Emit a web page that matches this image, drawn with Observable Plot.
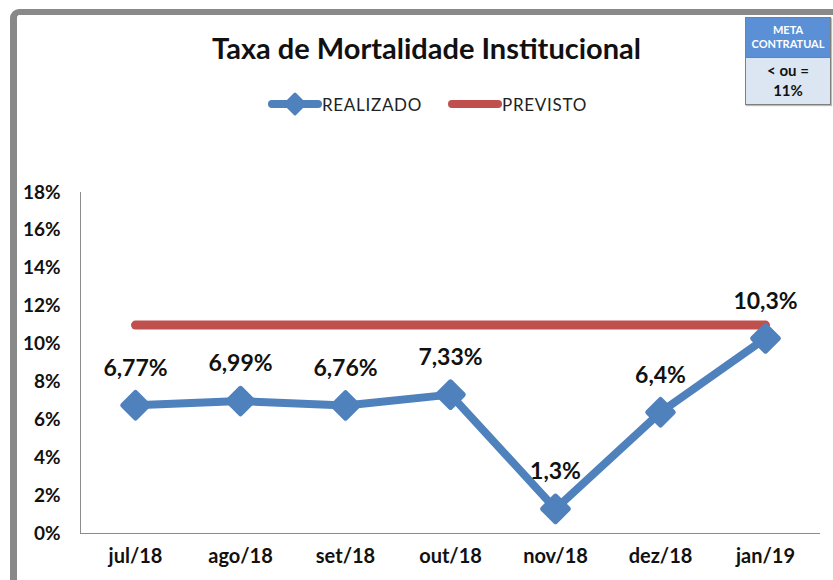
<!DOCTYPE html>
<html>
<head>
<meta charset="utf-8">
<script src="https://cdn.jsdelivr.net/npm/d3@7"></script>
<script src="https://cdn.jsdelivr.net/npm/@observablehq/plot@0.6"></script>
<style>
  html, body { margin: 0; padding: 0; background: #fff; }
  #wrap { position: relative; width: 833px; height: 580px; overflow: hidden; font-family: Lato, "Open Sans", sans-serif; }
  #frame { position: absolute; left: 10px; top: 9px; width: 900px; height: 700px; border-left: 7px solid #898989; border-top: 6px solid #898989; border-top-left-radius: 9px; box-sizing: border-box; }
  #chart { position: absolute; left: 0; top: 0; }
  #title { position: absolute; left: 0; width: 853px; top: 30px; text-align: center; font-weight: 700; font-size: 29px; color: #111; }
  #legend { position: absolute; left: 268px; top: 92px; display: flex; align-items: center; font-size: 17px; color: #222; letter-spacing: 0.7px; }
  #legend .item { display: flex; align-items: center; margin-right: 26px; }
  #meta { position: absolute; left: 745px; top: 17px; width: 84px; border: 1px solid #7f7f7f; box-shadow: 1px 1px 1px #bbb; }
  #meta .h { background: #5b8fd6; color: #fff; font-weight: 700; font-size: 11px; line-height: 14px; text-align: center; padding: 5px 0 6px; border-bottom: 1px solid #7f7f7f; }
  #meta .b { background: #dce6f2; color: #111; font-weight: 700; font-size: 15px; line-height: 20px; text-align: center; padding: 2px 0 4px; }
</style>
</head>
<body>
<div id="wrap">
  <div id="frame"></div>
  <div id="chart"></div>
  <div id="title">Taxa de Mortalidade Institucional</div>
  <div id="legend"></div>
  <div id="meta"><div class="h">META<br>CONTRATUAL</div><div class="b">&lt; ou =<br>11%</div></div>
</div>
<script>
const months = ["jul/18", "ago/18", "set/18", "out/18", "nov/18", "dez/18", "jan/19"];
const realizado = [6.77, 6.99, 6.76, 7.33, 1.3, 6.4, 10.3];
const previsto = [11, 11, 11, 11, 11, 11, 11];
const labels = ["6,77%", "6,99%", "6,76%", "7,33%", "1,3%", "6,4%", "10,3%"];
const yTicks = [0, 2, 4, 6, 8, 10, 12, 14, 16, 18];
const seriesNames = ["REALIZADO", "PREVISTO"];
const seriesColors = ["#4f81bd", "#c0504d"];

const realData = months.map((m, i) => ({month: m, value: realizado[i], label: labels[i]}));
const prevData = months.map((m, i) => ({month: m, value: previsto[i]}));

const chart = Plot.plot({
  width: 833,
  height: 580,
  marginTop: 192,
  marginBottom: 47,
  marginLeft: 80,
  marginRight: 13,
  style: {background: "transparent", fontFamily: "Lato, 'Open Sans', sans-serif", color: "#111"},
  x: {type: "point", domain: months, padding: 0.5},
  y: {domain: [0, 18], ticks: yTicks, tickFormat: d => d + "%"},
  marks: [
    Plot.frame({anchor: "left", stroke: "#8c8c8c"}),
    Plot.ruleY([0], {stroke: "#8c8c8c"}),
    Plot.axisY({ticks: yTicks, tickFormat: d => d + "%", tickSize: 0, tickPadding: 20, fontSize: 19, fontWeight: "bold", label: null}),
    Plot.axisX({tickSize: 0, tickPadding: 15, fontSize: 20, fontWeight: "bold", label: null}),
    Plot.line(prevData, {x: "month", y: "value", stroke: seriesColors[1], strokeWidth: 9, strokeLinecap: "round"}),
    Plot.line(realData, {x: "month", y: "value", stroke: seriesColors[0], strokeWidth: 8, strokeLinejoin: "round"}),
    Plot.dot(realData, {x: "month", y: "value", symbol: "diamond2", r: 11.5, fill: seriesColors[0], stroke: seriesColors[0], strokeWidth: 5, strokeLinejoin: "round"}),
    Plot.text(realData, {x: "month", y: "value", text: "label", dy: -37, fontSize: 23, fontWeight: "bold", fill: "#111"})
  ]
});
document.getElementById("chart").appendChild(chart);

// legend
const legend = d3.select("#legend");
seriesNames.forEach((name, i) => {
  const item = legend.append("div").attr("class", "item");
  const svg = item.append("svg").attr("width", 54).attr("height", 24);
  svg.append("line").attr("x1", 4).attr("x2", 50).attr("y1", 12).attr("y2", 12)
    .attr("stroke", seriesColors[i]).attr("stroke-width", 8).attr("stroke-linecap", "round");
  if (i === 0) {
    svg.append("path").attr("d", "M27,2 L37,12 L27,22 L17,12 Z")
      .attr("fill", seriesColors[i]).attr("stroke", seriesColors[i]).attr("stroke-width", 3).attr("stroke-linejoin", "round");
  }
  item.append("span").text(name);
});
</script>
</body>
</html>
